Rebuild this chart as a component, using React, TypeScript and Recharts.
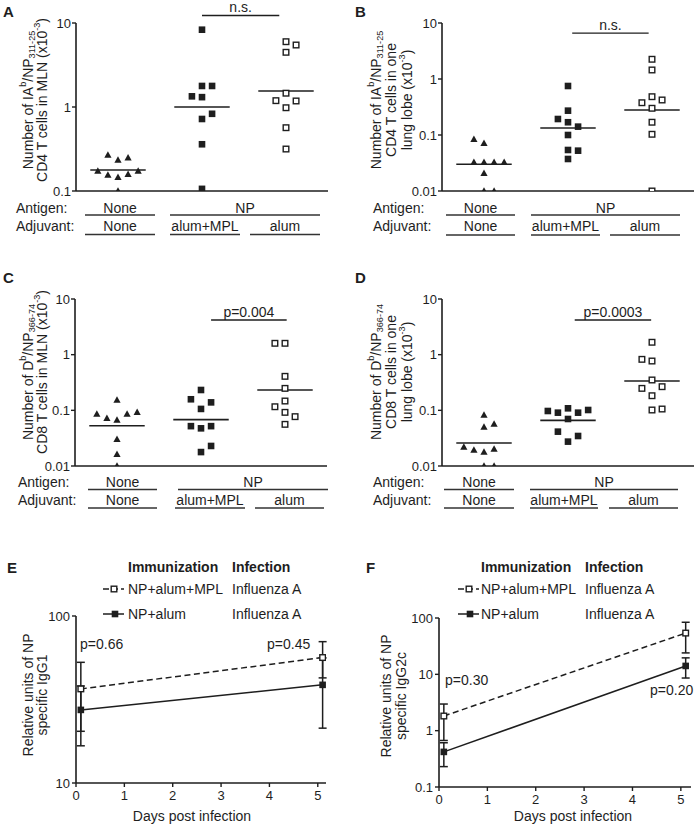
import React from "react";
import {
  ScatterChart,
  Scatter,
  ComposedChart,
  Line,
  ErrorBar,
  XAxis,
  YAxis,
  ReferenceLine,
} from "recharts";

const FONT = "Arial, 'Liberation Sans', Helvetica, sans-serif";
const INK = "#1e1e1e";
const RULE = "#333";

// hidden x axis: group centres 1 = None, 2 = alum+MPL, 3 = alum
const JITTER = 0.12;

// A: IAb/NP311-25 CD4 T cells in MLN (x10^-3)
const aNone = [0.268, 0.234, 0.249, 0.173, 0.155, 0.146, 0.158, 0.173, 0.1];
const aNoneCol = [-1, 0, 1, -2, -1, 0, 1, 2, 0];
const aMpl = [8.32, 1.78, 1.78, 1.34, 1.31, 0.83, 0.72, 0.36, 0.106];
const aMplCol = [0, 0, 1, -1, 0, 1, 0, 0, 0];
const aAlum = [5.99, 5.47, 4.48, 1.46, 1.19, 1.18, 0.98, 0.567, 0.316];
const aAlumCol = [0, 1, 0, 0, -1, 1, 0, 0, 0];
const aMedians = [0.178, 1.0, 1.55];

// B: IAb/NP311-25 CD4 T cells in one lung lobe
const bNone = [0.0838, 0.0711, 0.0325, 0.0325, 0.0325, 0.0325, 0.0207, 0.01, 0.01];
const bNoneCol = [-1, 0, -1, 0, 1, 2, 0, 0, 1];
const bMpl = [0.75, 0.272, 0.193, 0.169, 0.141, 0.1, 0.054, 0.0525, 0.0373];
const bMplCol = [0, 0, -1, 0, 1, 0, 0, 1, 0];
const bAlum = [2.25, 1.45, 0.483, 0.377, 0.422, 0.3, 0.169, 0.103, 0.01];
const bAlumCol = [0, 0, 0, -1, 1, 0, 0, 0, 0];
const bMedians = [0.03, 0.133, 0.279];

// C: Db/NP366-74 CD8 T cells in MLN
const cNone = [0.153, 0.0859, 0.0719, 0.067, 0.0859, 0.0922, 0.0302, 0.0162, 0.01];
const cNoneCol = [0, -2, -1, 0, 1, 2, 0, 0, 0];
const cMpl = [0.232, 0.158, 0.139, 0.106, 0.052, 0.052, 0.0475, 0.0229, 0.0178];
const cMplCol = [0, -1, 1, 0, -1, 1, 0, 1, 0];
const cAlum = [1.6, 1.6, 0.408, 0.248, 0.147, 0.116, 0.092, 0.077, 0.056];
const cAlumCol = [-1, 0, 0, 0, 0, -1, 0, 1, 0];
const cMedians = [0.053, 0.068, 0.232];

// D: Db/NP366-74 CD8 T cells in one lung lobe
const dNone = [0.0824, 0.0568, 0.0502, 0.0219, 0.0194, 0.0178, 0.0202, 0.01, 0.01];
const dNoneCol = [0, 1, 0, -2, -1, 0, 1, 0, 1];
const dMpl = [0.0973, 0.0908, 0.1087, 0.0908, 0.1014, 0.0699, 0.0414, 0.0346, 0.0274];
const dMplCol = [-2, -1, 0, 1, 2, 0, -1, 1, 0];
const dAlum = [1.67, 0.824, 0.769, 0.351, 0.248, 0.266, 0.183, 0.1014, 0.1056];
const dAlumCol = [0, -1, 0, 0, -1, 1, 0, 0, 1];
const dMedians = [0.0259, 0.066, 0.336];

// E / F: days post infection, mean +/- SEM
const days = [0.1, 5.1];
const eMpl = [36.6, 56.4];
const eMplSem = [16.2, 13.8];
const eAlum = [27.4, 38.7];
const eAlumSem = [10.7, 17.4];
const fMpl = [1.82, 54];
const fMplSem = [1.15, 30];
const fAlum = [0.42, 14.1];
const fAlumSem = [0.19, 5.5];

const toPoints = (vals: number[], cols: number[], g: number) =>
  vals.map((v, i) => ({ x: g + cols[i] * JITTER, y: v }));

const toSeries = (vals: number[], sem: number[]) =>
  vals.map((v, i) => ({ x: days[i], y: v, err: sem[i] }));

const triangle = (p: any) => (
  <polygon
    points={`${p.cx},${p.cy - 3.8} ${p.cx + 3.6},${p.cy + 2.7} ${p.cx - 3.6},${p.cy + 2.7}`}
    fill={INK}
  />
);
const filledSq = (p: any) => (
  <rect x={p.cx - 3.3} y={p.cy - 3.3} width={6.6} height={6.6} fill={INK} />
);
const openSq = (p: any) => (
  <rect
    x={p.cx - 2.8}
    y={p.cy - 2.8}
    width={5.6}
    height={5.6}
    fill="#fff"
    stroke={INK}
    strokeWidth={1.4}
  />
);

interface DotPanelProps {
  left: number;
  top: number;
  plotH: number;
  yMin: number;
  ticks: number[];
  none: number[];
  noneCol: number[];
  mpl: number[];
  mplCol: number[];
  alum: number[];
  alumCol: number[];
  medians: number[];
  bracket: { from: number; to: number; y: number; label: string };
}

// chart top sits 23px above the plot so the bracket label fits
function DotPanel(p: DotPanelProps) {
  return (
    <div style={{ position: "absolute", left: p.left, top: p.top }}>
      <ScatterChart
        width={332}
        height={23 + p.plotH + 12}
        margin={{ top: 23, right: 10, bottom: 10, left: 0 }}
      >
        <XAxis
          type="number"
          dataKey="x"
          domain={[0.5, 3.5]}
          allowDataOverflow
          tick={false}
          tickLine={false}
          height={2}
          axisLine={{ stroke: INK, strokeWidth: 1.6 }}
        />
        <YAxis
          type="number"
          dataKey="y"
          scale="log"
          domain={[p.yMin, 10]}
          allowDataOverflow
          ticks={p.ticks}
          interval={0}
          tickFormatter={(v) => String(v)}
          width={70}
          tickSize={4}
          tickMargin={1}
          tick={{ fill: INK, fontSize: 13 }}
          tickLine={{ stroke: INK, strokeWidth: 1.4 }}
          axisLine={{ stroke: INK, strokeWidth: 1.6 }}
        />
        {p.medians.map((m, i) => (
          <ReferenceLine
            key={i}
            segment={[
              { x: i + 1 - 0.33, y: m },
              { x: i + 1 + 0.33, y: m },
            ]}
            stroke={INK}
            strokeWidth={1.6}
          />
        ))}
        <ReferenceLine
          segment={[
            { x: p.bracket.from, y: p.bracket.y },
            { x: p.bracket.to, y: p.bracket.y },
          ]}
          ifOverflow="visible"
          stroke={INK}
          strokeWidth={1.4}
          label={{
            value: p.bracket.label,
            position: "top",
            offset: 3,
            fill: INK,
            fontSize: 14,
          }}
        />
        <Scatter data={toPoints(p.none, p.noneCol, 1)} shape={triangle} isAnimationActive={false} />
        <Scatter data={toPoints(p.mpl, p.mplCol, 2)} shape={filledSq} isAnimationActive={false} />
        <Scatter data={toPoints(p.alum, p.alumCol, 3)} shape={openSq} isAnimationActive={false} />
      </ScatterChart>
    </div>
  );
}

interface LinePanelProps {
  left: number;
  top: number;
  plotW: number;
  plotH: number;
  xMax: number;
  yDomain: [number, number];
  yTicks: number[];
  mpl: any[];
  alum: any[];
}

function LinePanel(p: LinePanelProps) {
  const dotOpen = (d: any) => <g key={`o${d.index}`}>{openSq(d)}</g>;
  const dotFill = (d: any) => <g key={`f${d.index}`}>{filledSq(d)}</g>;
  return (
    <div style={{ position: "absolute", left: p.left, top: p.top }}>
      <ComposedChart
        width={70 + p.plotW + 8}
        height={10 + p.plotH + 22}
        margin={{ top: 10, right: 8, bottom: 2, left: 0 }}
      >
        <XAxis
          type="number"
          dataKey="x"
          domain={[0, p.xMax]}
          allowDataOverflow
          ticks={[0, 1, 2, 3, 4, 5]}
          interval={0}
          height={20}
          tickSize={4}
          tickMargin={4}
          tick={{ fill: INK, fontSize: 13 }}
          tickLine={{ stroke: INK, strokeWidth: 1.4 }}
          axisLine={{ stroke: INK, strokeWidth: 1.6 }}
        />
        <YAxis
          type="number"
          dataKey="y"
          scale="log"
          domain={p.yDomain}
          allowDataOverflow
          ticks={p.yTicks}
          interval={0}
          tickFormatter={(v) => String(v)}
          width={70}
          tickSize={4}
          tickMargin={2}
          tick={{ fill: INK, fontSize: 13 }}
          tickLine={{ stroke: INK, strokeWidth: 1.4 }}
          axisLine={{ stroke: INK, strokeWidth: 1.6 }}
        />
        <Line
          data={p.alum}
          dataKey="y"
          type="linear"
          stroke={INK}
          strokeWidth={1.5}
          dot={dotFill}
          isAnimationActive={false}
        >
          <ErrorBar dataKey="err" direction="y" width={4} stroke={INK} strokeWidth={1.5} />
        </Line>
        <Line
          data={p.mpl}
          dataKey="y"
          type="linear"
          stroke={INK}
          strokeWidth={1.5}
          strokeDasharray="6 3.5"
          dot={dotOpen}
          isAnimationActive={false}
        >
          <ErrorBar dataKey="err" direction="y" width={4} stroke={INK} strokeWidth={1.5} />
        </Line>
      </ComposedChart>
    </div>
  );
}

type Seg = { t: string; s?: "sup" | "sub" };

function RotLabel({ x, y, lines, size }: { x: number[]; y: number; lines: Seg[][]; size: number }) {
  return (
    <>
      {lines.map((segs, li) => {
        let shift = 0;
        return (
          <text
            key={li}
            transform={`translate(${x[li]},${y}) rotate(-90)`}
            textAnchor="middle"
            dominantBaseline="central"
            fontSize={size}
            fill={INK}
          >
            {segs.map((s, si) => {
              const target = s.s === "sup" ? -size * 0.36 : s.s === "sub" ? size * 0.26 : 0;
              const dy = target - shift;
              shift = target;
              return (
                <tspan key={si} dy={dy} fontSize={s.s ? size * 0.65 : size}>
                  {s.t}
                </tspan>
              );
            })}
          </text>
        );
      })}
    </>
  );
}

interface TableProps {
  labelX: number;
  base: [number, number];
  rule: [number, number];
  none: [number, number];
  np: [number, number];
  mpl: [number, number];
  alum: [number, number];
}

function CategoryTable(t: TableProps) {
  const mid = (r: [number, number]) => (r[0] + r[1]) / 2;
  const cell = (r: [number, number], text: string, row: number) => (
    <>
      <text x={mid(r)} y={t.base[row]} textAnchor="middle" fontSize={14} fill={INK}>
        {text}
      </text>
      <line x1={r[0]} x2={r[1]} y1={t.rule[row]} y2={t.rule[row]} stroke={RULE} strokeWidth={1.4} />
    </>
  );
  return (
    <g>
      <text x={t.labelX} y={t.base[0]} fontSize={14} fill={INK}>Antigen:</text>
      <text x={t.labelX} y={t.base[1]} fontSize={14} fill={INK}>Adjuvant:</text>
      {cell(t.none, "None", 0)}
      {cell(t.np, "NP", 0)}
      {cell(t.none, "None", 1)}
      {cell(t.mpl, "alum+MPL", 1)}
      {cell(t.alum, "alum", 1)}
    </g>
  );
}

function LegendBlock({ x, symX }: { x: number; symX: number }) {
  return (
    <g fontSize={14} fill={INK}>
      <text x={x} y={572} fontWeight="bold">Immunization</text>
      <text x={x + 104} y={572} fontWeight="bold">Infection</text>
      <line x1={symX} x2={symX + 21} y1={589} y2={589} stroke={INK} strokeWidth={1.5} strokeDasharray="6 3" />
      {openSq({ cx: symX + 11, cy: 589 })}
      <text x={x} y={594}>NP+alum+MPL</text>
      <text x={x + 104} y={594}>Influenza A</text>
      <line x1={symX} x2={symX + 21} y1={614} y2={614} stroke={INK} strokeWidth={1.5} />
      {filledSq({ cx: symX + 12, cy: 614 })}
      <text x={x} y={619}>NP+alum</text>
      <text x={x + 104} y={619}>Influenza A</text>
    </g>
  );
}

const ylA: Seg[][] = [
  [{ t: "Number of IA" }, { t: "b", s: "sup" }, { t: "/NP" }, { t: "311-25", s: "sub" }],
  [{ t: "CD4 T cells in MLN (x10" }, { t: "-3", s: "sup" }, { t: ")" }],
];
const ylB: Seg[][] = [
  [{ t: "Number of IA" }, { t: "b", s: "sup" }, { t: "/NP" }, { t: "311-25", s: "sub" }],
  [{ t: "CD4 T cells in one" }],
  [{ t: "lung lobe (x10" }, { t: "-3", s: "sup" }, { t: ")" }],
];
const ylC: Seg[][] = [
  [{ t: "Number of D" }, { t: "b", s: "sup" }, { t: "/NP" }, { t: "366-74", s: "sub" }],
  [{ t: "CD8 T cells in MLN (x10" }, { t: "-3", s: "sup" }, { t: ")" }],
];
const ylD: Seg[][] = [
  [{ t: "Number of D" }, { t: "b", s: "sup" }, { t: "/NP" }, { t: "366-74", s: "sub" }],
  [{ t: "CD8 T cells in one" }],
  [{ t: "lung lobe (x10" }, { t: "-3", s: "sup" }, { t: ")" }],
];

export default function App() {
  return (
    <div
      style={{
        position: "absolute",
        left: 0,
        top: 0,
        width: 697,
        height: 826,
        background: "#fff",
        fontFamily: FONT,
        color: INK,
      }}
    >
      <DotPanel
        left={6} top={0} plotH={168} yMin={0.1} ticks={[0.1, 1, 10]}
        none={aNone} noneCol={aNoneCol} mpl={aMpl} mplCol={aMplCol}
        alum={aAlum} alumCol={aAlumCol} medians={aMedians}
        bracket={{ from: 2.0, to: 2.92, y: 12.3, label: "n.s." }}
      />
      <DotPanel
        left={372} top={0} plotH={168} yMin={0.01} ticks={[0.01, 0.1, 1, 10]}
        none={bNone} noneCol={bNoneCol} mpl={bMpl} mplCol={bMplCol}
        alum={bAlum} alumCol={bAlumCol} medians={bMedians}
        bracket={{ from: 2.05, to: 2.96, y: 6.6, label: "n.s." }}
      />
      <DotPanel
        left={5} top={276} plotH={167} yMin={0.01} ticks={[0.01, 0.1, 1, 10]}
        none={cNone} noneCol={cNoneCol} mpl={cMpl} mplCol={cMplCol}
        alum={cAlum} alumCol={cAlumCol} medians={cMedians}
        bracket={{ from: 2.12, to: 3.02, y: 4.2, label: "p=0.004" }}
      />
      <DotPanel
        left={372} top={276} plotH={167} yMin={0.01} ticks={[0.01, 0.1, 1, 10]}
        none={dNone} noneCol={dNoneCol} mpl={dMpl} mplCol={dMplCol}
        alum={dAlum} alumCol={dAlumCol} medians={dMedians}
        bracket={{ from: 2.08, to: 2.99, y: 4.2, label: "p=0.0003" }}
      />
      <LinePanel
        left={6} top={606} plotW={250} plotH={167} xMax={5.17}
        yDomain={[10, 100]} yTicks={[10, 100]}
        mpl={toSeries(eMpl, eMplSem)} alum={toSeries(eAlum, eAlumSem)}
      />
      <LinePanel
        left={369} top={608} plotW={252} plotH={169} xMax={5.21}
        yDomain={[0.1, 100]} yTicks={[0.1, 1, 10, 100]}
        mpl={toSeries(fMpl, fMplSem)} alum={toSeries(fAlum, fAlumSem)}
      />
      <svg
        width={697}
        height={826}
        style={{ position: "absolute", left: 0, top: 0, pointerEvents: "none" }}
        fontFamily={FONT}
      >
        <g fontWeight="bold" fontSize={15} fill={INK}>
          <text x={3} y={17}>A</text>
          <text x={355} y={17}>B</text>
          <text x={3} y={283}>C</text>
          <text x={355} y={283}>D</text>
          <text x={7} y={573}>E</text>
          <text x={366} y={573}>F</text>
        </g>
        <RotLabel x={[28, 42]} y={100} lines={ylA} size={14} />
        <RotLabel x={[376, 391, 407]} y={100} lines={ylB} size={14} />
        <RotLabel x={[28, 42]} y={372} lines={ylC} size={14} />
        <RotLabel x={[376, 391, 407]} y={372} lines={ylD} size={14} />
        <RotLabel x={[28, 42]} y={695} lines={[[{ t: "Relative units of NP" }], [{ t: "specific IgG1" }]]} size={14} />
        <RotLabel x={[386, 401]} y={696} lines={[[{ t: "Relative units of NP" }], [{ t: "specific IgG2c" }]]} size={14} />

        <CategoryTable labelX={16} base={[213, 231]} rule={[215, 234.5]}
          none={[85, 155]} np={[170, 320]} mpl={[170, 240]} alum={[250, 320]} />
        <CategoryTable labelX={373} base={[213, 231]} rule={[215, 235]}
          none={[446, 515]} np={[531, 680]} mpl={[531, 600]} alum={[610, 680]} />
        <CategoryTable labelX={18} base={[487, 505]} rule={[489.5, 508]}
          none={[88, 157]} np={[178, 328]} mpl={[175, 245]} alum={[255, 324]} />
        <CategoryTable labelX={373} base={[487, 505]} rule={[489.5, 508]}
          none={[444, 514]} np={[530, 678]} mpl={[530, 598]} alum={[609, 678]} />

        <LegendBlock x={128} symX={103} />
        <LegendBlock x={481} symX={458} />

        <g fontSize={14} fill={INK}>
          <text x={80} y={649}>p=0.66</text>
          <text x={267} y={649}>p=0.45</text>
          <text x={445} y={685}>p=0.30</text>
          <text x={650} y={695}>p=0.20</text>
          <text x={192} y={821} textAnchor="middle">Days post infection</text>
          <text x={573} y={821} textAnchor="middle">Days post infection</text>
        </g>
      </svg>
    </div>
  );
}
